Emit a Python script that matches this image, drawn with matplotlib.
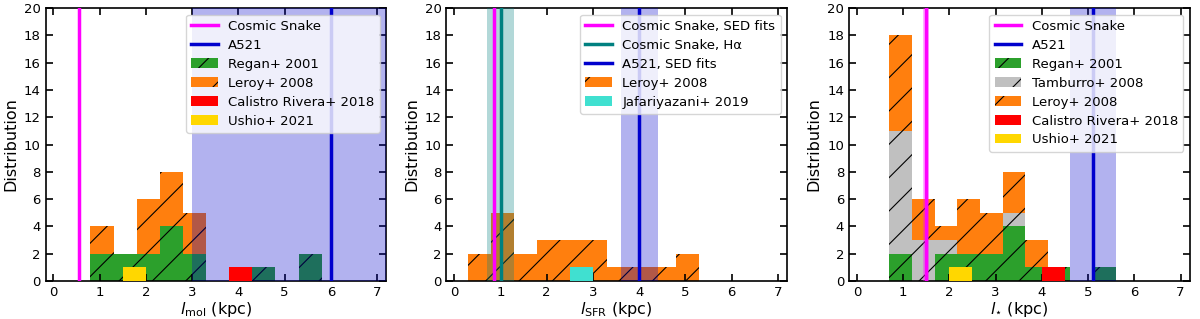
import matplotlib
matplotlib.use("Agg")
import matplotlib.pyplot as plt
import numpy as np
from matplotlib.patches import Patch
from matplotlib.lines import Line2D

# ---- panel 1: l_mol ----
mol_edges = np.arange(0.8, 5.81, 0.5)
mol_regan = [2, 2, 2, 4, 2, 0, 0, 1, 0, 2]
mol_leroy = [2, 0, 4, 4, 3, 0, 0, 0, 0, 0]
mol_calistro_edges = [3.8, 4.3]
mol_calistro = [1]
mol_ushio_edges = [1.5, 2.0]
mol_ushio = [1]
mol_snake = 0.56
mol_a521 = 6.0
mol_a521_range = (3.0, 7.5)

# ---- panel 2: l_SFR ----
sfr_edges = np.arange(0.3, 5.31, 0.5)
sfr_leroy = [2, 5, 2, 3, 3, 3, 1, 1, 1, 2]
sfr_jafari_edges = [2.5, 3.0]
sfr_jafari = [1]
sfr_snake_sed = 0.85
sfr_snake_ha = 1.0
sfr_snake_ha_range = (0.7, 1.3)
sfr_a521 = 4.0
sfr_a521_range = (3.6, 4.4)

# ---- panel 3: l_star ----
star_edges = np.linspace(0.7, 5.6, 11)
star_regan = [2, 0, 2, 2, 2, 4, 1, 1, 0, 1]
star_tamburro = [9, 3, 1, 0, 0, 1, 0, 0, 0, 0]
star_leroy = [7, 3, 1, 4, 3, 3, 2, 0, 0, 0]
star_calistro_edges = [4.0, 4.5]
star_calistro = [1]
star_ushio_edges = [2.0, 2.5]
star_ushio = [1]
star_snake = 1.5
star_snake_range = (1.43, 1.57)
star_a521 = 5.1
star_a521_range = (4.6, 5.6)

c_regan = "tab:green"
c_leroy = "tab:orange"
c_tamb = "silver"
c_cal = "red"
c_ush = "gold"
c_jaf = "turquoise"
c_snake = "magenta"
c_a521 = "mediumblue"
c_ha = "teal"

TICK = 9.5
LAB = 11.5
LW = 2.5


def bars(ax, edges, counts, bottom=None, **kw):
    edges = np.asarray(edges)
    counts = np.asarray(counts, dtype=float)
    if bottom is None:
        bottom = np.zeros_like(counts)
    ax.bar(edges[:-1], counts, width=np.diff(edges), bottom=bottom,
           align="edge", linewidth=0, **kw)
    return bottom + counts


def style(ax, xlabel):
    ax.set_xlim(-0.17, 7.2)
    ax.set_ylim(0, 20)
    ax.set_xticks(range(8))
    ax.set_yticks(range(0, 21, 2))
    ax.tick_params(direction="in", top=True, right=True, length=5,
                   width=1.2, labelsize=TICK)
    for s in ax.spines.values():
        s.set_linewidth(1.2)
    ax.set_xlabel(xlabel, fontsize=LAB, labelpad=1)
    ax.set_ylabel("Distribution", fontsize=LAB)


def legend(ax, h, l):
    lg = ax.legend(h, l, loc="upper right", fontsize=TICK, labelspacing=0.45,
                   borderaxespad=0.5)
    lg.set_zorder(10)


hatch_kw = dict(hatch="/", edgecolor="k")
line_h = lambda c: Line2D([], [], color=c, lw=LW)

fig = plt.figure(figsize=(12, 3.19), dpi=100)
plt.rcParams["hatch.linewidth"] = 0.8
ax1 = fig.add_axes([0.038, 0.119, 0.284, 0.856])
ax2 = fig.add_axes([0.372, 0.119, 0.284, 0.856])
ax3 = fig.add_axes([0.7075, 0.119, 0.284, 0.856])

# panel 1
b = bars(ax1, mol_edges, mol_regan, color=c_regan, **hatch_kw)
bars(ax1, mol_edges, mol_leroy, bottom=b, color=c_leroy, **hatch_kw)
ax1.axvspan(*mol_a521_range, color=c_a521, alpha=0.3, lw=0, zorder=3)
bars(ax1, mol_calistro_edges, mol_calistro, color=c_cal, zorder=3.5)
bars(ax1, mol_ushio_edges, mol_ushio, color=c_ush, zorder=3.5)
ax1.axvline(mol_snake, color=c_snake, lw=LW, zorder=4)
ax1.axvline(mol_a521, color=c_a521, lw=LW, zorder=4)
style(ax1, r"$l_{\rm mol}$ (kpc)")
h1 = [line_h(c_snake), line_h(c_a521),
      Patch(facecolor=c_regan, **hatch_kw, lw=0),
      Patch(facecolor=c_leroy, **hatch_kw, lw=0),
      Patch(facecolor=c_cal, lw=0), Patch(facecolor=c_ush, lw=0)]
l1 = ["Cosmic Snake", "A521", "Regan+ 2001", "Leroy+ 2008",
      "Calistro Rivera+ 2018", "Ushio+ 2021"]
legend(ax1, h1, l1)

# panel 2
bars(ax2, sfr_edges, sfr_leroy, color=c_leroy, **hatch_kw)
ax2.axvspan(*sfr_snake_ha_range, color=c_ha, alpha=0.3, lw=0, zorder=3)
ax2.axvspan(*sfr_a521_range, color=c_a521, alpha=0.3, lw=0, zorder=3)
bars(ax2, sfr_jafari_edges, sfr_jafari, color=c_jaf, zorder=3.5)
ax2.axvline(sfr_snake_sed, color=c_snake, lw=LW, zorder=4)
ax2.axvline(sfr_snake_ha, color=c_ha, lw=LW, zorder=4)
ax2.axvline(sfr_a521, color=c_a521, lw=LW, zorder=4)
style(ax2, r"$l_{\rm SFR}$ (kpc)")
h2 = [line_h(c_snake), line_h(c_ha), line_h(c_a521),
      Patch(facecolor=c_leroy, **hatch_kw, lw=0),
      Patch(facecolor=c_jaf, lw=0)]
l2 = ["Cosmic Snake, SED fits", "Cosmic Snake, H\u03b1", "A521, SED fits",
      "Leroy+ 2008", "Jafariyazani+ 2019"]
legend(ax2, h2, l2)

# panel 3
b = bars(ax3, star_edges, star_regan, color=c_regan, **hatch_kw)
b = bars(ax3, star_edges, star_tamburro, bottom=b, color=c_tamb, **hatch_kw)
bars(ax3, star_edges, star_leroy, bottom=b, color=c_leroy, **hatch_kw)
ax3.axvspan(*star_snake_range, color=c_snake, alpha=0.3, lw=0, zorder=3)
ax3.axvspan(*star_a521_range, color=c_a521, alpha=0.3, lw=0, zorder=3)
bars(ax3, star_calistro_edges, star_calistro, color=c_cal, zorder=3.5)
bars(ax3, star_ushio_edges, star_ushio, color=c_ush, zorder=3.5)
ax3.axvline(star_snake, color=c_snake, lw=LW, zorder=4)
ax3.axvline(star_a521, color=c_a521, lw=LW, zorder=4)
style(ax3, r"$l_{\star}$ (kpc)")
h3 = [line_h(c_snake), line_h(c_a521),
      Patch(facecolor=c_regan, **hatch_kw, lw=0),
      Patch(facecolor=c_tamb, **hatch_kw, lw=0),
      Patch(facecolor=c_leroy, **hatch_kw, lw=0),
      Patch(facecolor=c_cal, lw=0), Patch(facecolor=c_ush, lw=0)]
l3 = ["Cosmic Snake", "A521", "Regan+ 2001", "Tamburro+ 2008", "Leroy+ 2008",
      "Calistro Rivera+ 2018", "Ushio+ 2021"]
legend(ax3, h3, l3)

fig.savefig("out.png", dpi=100)
